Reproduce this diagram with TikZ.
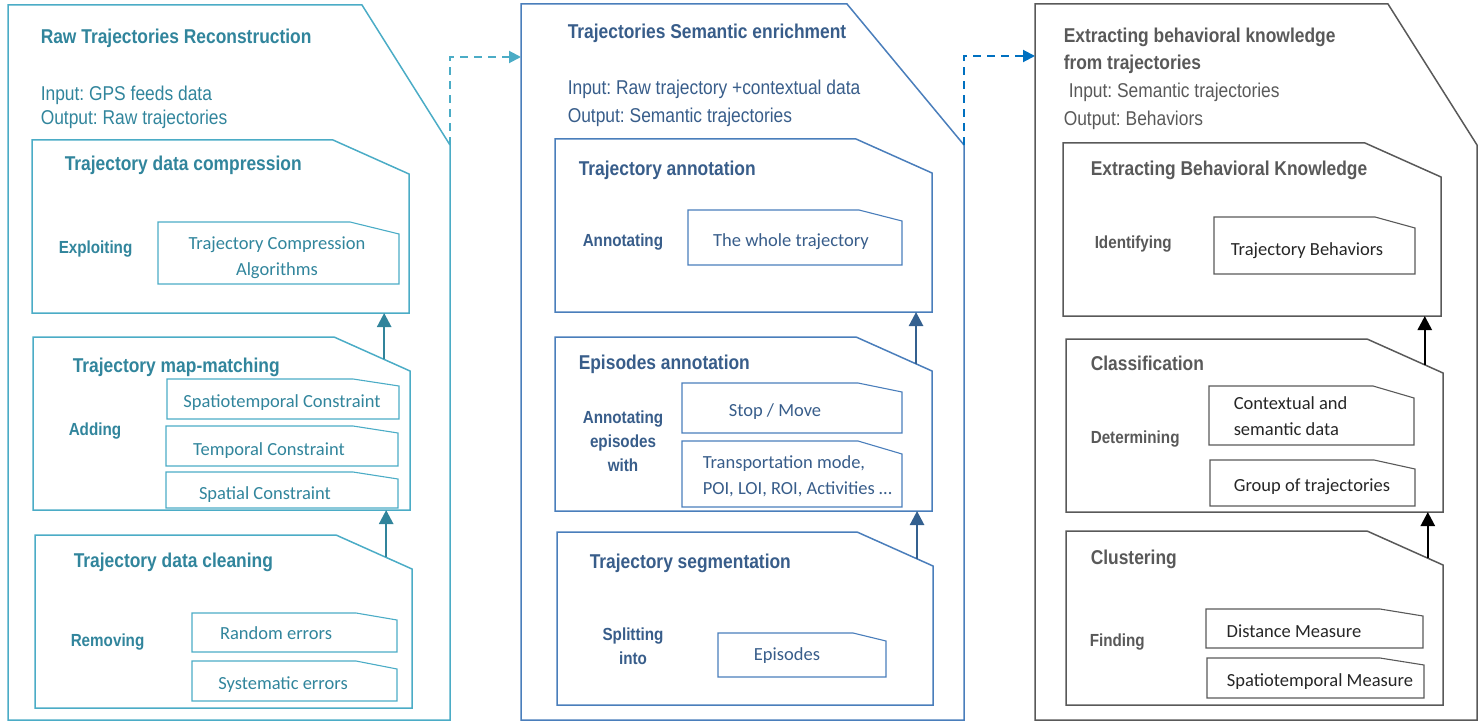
\documentclass[tikz,border=0pt]{standalone}
\usepackage{fontspec}
\setmainfont{Carlito}
\newfontfamily\narrowsans[FakeStretch=0.87]{Liberation Sans}
\usepackage{tikz}
\usetikzlibrary{arrows.meta, calc}
\frenchspacing
\definecolor{rawline}{HTML}{4BACC6}
\definecolor{rawtext}{HTML}{31859C}
\definecolor{rawarrow}{HTML}{31849B}
\definecolor{enrline}{HTML}{4A7EBB}
\definecolor{enrtext}{HTML}{385D8A}
\definecolor{enrarrow}{HTML}{34608F}
\definecolor{enrflow}{HTML}{0070C0}
\definecolor{behline}{HTML}{595959}
\definecolor{behtext}{HTML}{595959}
\definecolor{subtext}{HTML}{262626}

% box outline with the top right corner cut off
\newcommand{\snipframe}[3]{%
  \draw (#1.south west) -- (#1.north west) -- ([xshift=-#2]#1.north east)
    -- ([yshift=-#3]#1.north east) -- (#1.south east) -- cycle;}

\begin{document}
\begin{tikzpicture}[
    x=1pt, y=-1pt,
    box/.style={anchor=north west, inner sep=0pt, outer sep=0pt},
    ptitle/.style={anchor=base west, inner sep=0pt, font=\narrowsans\bfseries\fontsize{20}{27}\selectfont},
    io/.style={anchor=base west, inner sep=0pt, font=\narrowsans\fontsize{20}{24}\selectfont},
    verb/.style={inner sep=0pt, align=center, font=\narrowsans\bfseries\fontsize{17.5}{24}\selectfont},
    item/.style={inner sep=0pt, font=\fontsize{18.5}{26}\selectfont},
    uparrow/.style={line width=2.5pt, -{Triangle[width=14pt,length=14pt]}},
    flow/.style={line width=2pt, dash pattern=on 8pt off 6pt, -{Triangle[width=12pt,length=12pt]}}
]
\useasboundingbox (0,0) rectangle (1483,722);

%% Raw trajectories reconstruction
\begin{scope}[color=rawline, text=rawtext, line width=1.5pt]
\node[box, minimum width=442pt, minimum height=715pt] (raw) at (8,5) {};
\node[box, minimum width=377pt, minimum height=173pt] (compress) at (32,140) {};
\node[box, minimum width=377pt, minimum height=173pt] (mapmatch) at (33,337) {};
\node[box, minimum width=377pt, minimum height=173pt] (cleaning) at (35,535) {};
\snipframe{raw}{88pt}{140pt}
\snipframe{compress}{76pt}{34pt}
\snipframe{mapmatch}{76pt}{34pt}
\snipframe{cleaning}{76pt}{34pt}

\node[ptitle] (rawtitle) at (40,44) {Raw Trajectories Reconstruction};
\node[io] (rawin) at (40,101) {Input: GPS feeds data};
\node[io] (rawout) at (40,125) {Output: Raw trajectories};

\node[ptitle] (compresst) at (64,171) {Trajectory data compression};
\node[ptitle] (mapmatcht) at (72,372) {Trajectory map-matching};
\node[ptitle] (cleaningt) at (73,567) {Trajectory data cleaning};
\node[verb, anchor=base west] (exploiting) at (58,253) {Exploiting};
\node[verb, anchor=base west] (adding) at (68,435) {Adding};
\node[verb, anchor=base west] (removing) at (70,646) {Removing};

\begin{scope}[line width=1.1pt]
\node[box, minimum width=241pt, minimum height=62pt] (compalg) at (158,222) {};
\node[box, minimum width=232pt, minimum height=40pt] (spatemp) at (167,379) {};
\node[box, minimum width=232pt, minimum height=40pt] (temporal) at (166,426) {};
\node[box, minimum width=232pt, minimum height=36pt] (spatial) at (166,472) {};
\node[box, minimum width=205pt, minimum height=39pt] (randerr) at (192,613) {};
\node[box, minimum width=205pt, minimum height=40pt] (systerr) at (192,661) {};
\snipframe{compalg}{49pt}{12pt}
\snipframe{spatemp}{46pt}{7pt}
\snipframe{temporal}{45pt}{7pt}
\snipframe{spatial}{45pt}{7pt}
\snipframe{randerr}{41pt}{7pt}
\snipframe{systerr}{41pt}{8pt}
\end{scope}
\node[item, align=center] (compalgt) at (277,258) {Trajectory Compression\\Algorithms};
\node[item, anchor=base] (spatempt) at (282,407) {Spatiotemporal Constraint};
\node[item, anchor=base] (temporalt) at (269,455) {Temporal Constraint};
\node[item, anchor=base] (spatialt) at (265,499) {Spatial Constraint};
\node[item, anchor=base] (randerrt) at (276,639) {Random errors};
\node[item, anchor=base] (systerrt) at (283,689) {Systematic errors};
\end{scope}

%% Trajectories semantic enrichment
\begin{scope}[color=enrline, text=enrtext, line width=1.5pt]
\node[box, minimum width=443pt, minimum height=716pt] (enrich) at (521,4) {};
\node[box, minimum width=377pt, minimum height=173pt] (annot) at (555,139) {};
\node[box, minimum width=377pt, minimum height=174pt] (epiannot) at (555,337) {};
\node[box, minimum width=376pt, minimum height=173pt] (segment) at (557,532) {};
\snipframe{enrich}{117pt}{141pt}
\snipframe{annot}{76pt}{34pt}
\snipframe{epiannot}{76pt}{34pt}
\snipframe{segment}{76pt}{34pt}

\node[ptitle] (enrichtitle) at (567,39) {Trajectories Semantic enrichment};
\node[io] (enrichin) at (567,95) {Input: Raw trajectory +contextual data};
\node[io] (enrichout) at (567,123) {Output: Semantic trajectories};

\node[ptitle] (annott) at (578,176) {Trajectory annotation};
\node[ptitle] (epiannott) at (578,369) {Episodes annotation};
\node[ptitle] (segmentt) at (589,568) {Trajectory segmentation};
\node[verb, anchor=base west] (annotating) at (582,247) {Annotating};
\node[verb] (annotwith) at (623,441) {Annotating\\episodes\\with};
\node[verb] (splitting) at (633,646) {Splitting\\into};

\begin{scope}[line width=1.1pt]
\node[box, minimum width=214pt, minimum height=55pt] (whole) at (688,210) {};
\node[box, minimum width=220pt, minimum height=50pt] (stopmove) at (682,383) {};
\node[box, minimum width=220pt, minimum height=66pt] (transport) at (682,441) {};
\node[box, minimum width=168pt, minimum height=44pt] (episodes) at (718,633) {};
\snipframe{whole}{43pt}{11pt}
\snipframe{stopmove}{44pt}{9pt}
\snipframe{transport}{44pt}{13pt}
\snipframe{episodes}{33pt}{8pt}
\end{scope}
\node[item, anchor=base] (wholet) at (791,247) {The whole trajectory};
\node[item, anchor=base] (stopmovet) at (775,416) {Stop / Move};
\node[item, anchor=west, align=left] (transportt) at (702,476) {Transportation mode,\\POI, LOI, ROI, Activities …};
\node[item, anchor=base] (episodest) at (787,660) {Episodes};
\end{scope}

%% Extracting behavioral knowledge
\begin{scope}[color=behline, text=behtext, line width=1.5pt]
\node[box, minimum width=442pt, minimum height=716pt] (behav) at (1035,4) {};
\node[box, minimum width=378pt, minimum height=173pt] (extract) at (1063,143) {};
\node[box, minimum width=377pt, minimum height=173pt] (classif) at (1066,339) {};
\node[box, minimum width=377pt, minimum height=174pt] (cluster) at (1066,531) {};
\snipframe{behav}{89pt}{141pt}
\snipframe{extract}{76pt}{34pt}
\snipframe{classif}{76pt}{34pt}
\snipframe{cluster}{76pt}{34pt}

\node[ptitle, anchor=west, align=left] (behavtitle) at (1063,51) {Extracting behavioral knowledge\\from trajectories};
\node[io] (behavin) at (1068,98) {Input: Semantic trajectories};
\node[io] (behavout) at (1063,126) {Output: Behaviors};

\node[ptitle] (extractt) at (1090,176) {Extracting Behavioral Knowledge};
\node[ptitle] (classift) at (1090,370) {Classification};
\node[ptitle] (clustert) at (1090,564) {Clustering};
\node[verb, anchor=base west] (identifying) at (1094,248) {Identifying};
\node[verb, anchor=base west] (determining) at (1090,443) {Determining};
\node[verb, anchor=base west] (finding) at (1089,646) {Finding};

\begin{scope}[line width=1.1pt]
\node[box, minimum width=201pt, minimum height=57pt] (trajbeh) at (1214,217) {};
\node[box, minimum width=205pt, minimum height=59pt] (context) at (1209,386) {};
\node[box, minimum width=205pt, minimum height=46pt] (group) at (1210,460) {};
\node[box, minimum width=217pt, minimum height=39pt] (distance) at (1206,609) {};
\node[box, minimum width=217pt, minimum height=40pt] (stmeasure) at (1207,658) {};
\snipframe{trajbeh}{40pt}{11pt}
\snipframe{context}{41pt}{12pt}
\snipframe{group}{41pt}{9pt}
\snipframe{distance}{43pt}{7pt}
\snipframe{stmeasure}{44pt}{7pt}
\end{scope}
\begin{scope}[text=subtext]
\node[item, anchor=base] (trajbeht) at (1307,255) {Trajectory Behaviors};
\node[item, anchor=west, align=left] (contextt) at (1233,416) {Contextual and\\semantic data};
\node[item, anchor=base] (groupt) at (1312,491) {Group of trajectories};
\node[item, anchor=base] (distancet) at (1294,637) {Distance Measure};
\node[item, anchor=base] (stmeasuret) at (1320,686) {Spatiotemporal Measure};
\end{scope}
\end{scope}

%% upward arrows between the steps
\coordinate (cleanup) at ($([xshift=-76pt]cleaning.north east)!0.66!([yshift=-34pt]cleaning.north east)$);
\coordinate (mapup) at ($([xshift=-76pt]mapmatch.north east)!0.66!([yshift=-34pt]mapmatch.north east)$);
\coordinate (segup) at ($([xshift=-76pt]segment.north east)!0.79!([yshift=-34pt]segment.north east)$);
\coordinate (epiup) at ($([xshift=-76pt]epiannot.north east)!0.79!([yshift=-34pt]epiannot.north east)$);
\coordinate (clusup) at ($([xshift=-76pt]cluster.north east)!0.80!([yshift=-34pt]cluster.north east)$);
\coordinate (classup) at ($([xshift=-76pt]classif.north east)!0.76!([yshift=-34pt]classif.north east)$);
\draw[uparrow, rawarrow] (cleanup) -- (cleanup |- mapmatch.south);
\draw[uparrow, rawarrow] (mapup) -- (mapup |- compress.south);
\draw[uparrow, enrarrow] (segup) -- (segup |- epiannot.south);
\draw[uparrow, enrarrow] (epiup) -- (epiup |- annot.south);
\draw[uparrow, black] (clusup) -- (clusup |- classif.south);
\draw[uparrow, black] (classup) -- (classup |- extract.south);

%% dashed links between the panels
\coordinate (rawexit) at ([yshift=-140pt]raw.north east);
\coordinate (enrichentry) at ([yshift=-53pt]enrich.north west);
\coordinate (enrichexit) at ([yshift=-141pt]enrich.north east);
\coordinate (behaventry) at ([yshift=-52pt]behav.north west);
\draw[flow, rawline] (rawexit) |- (enrichentry);
\draw[flow, enrflow] (enrichexit) |- (behaventry);

\end{tikzpicture}
\end{document}
